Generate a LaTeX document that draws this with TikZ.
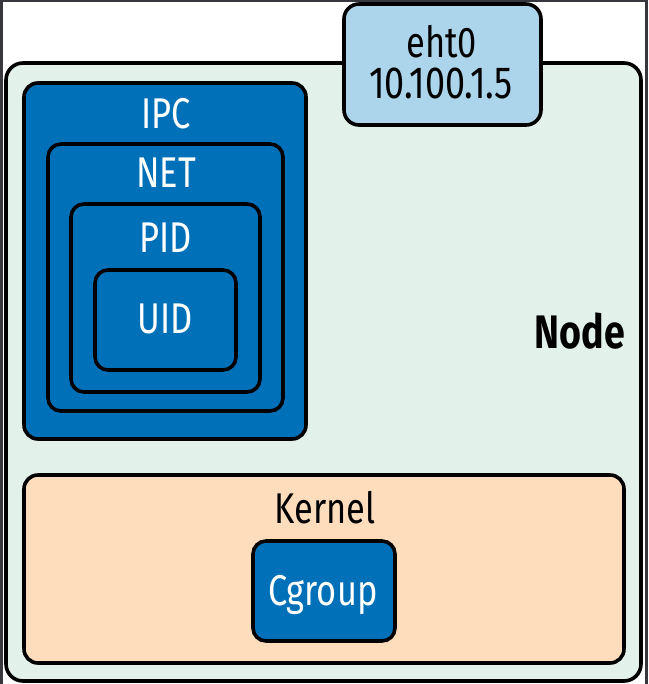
\documentclass[tikz,border=0pt]{standalone}
\usepackage{fontspec}
\setmainfont{Fira Sans}[FakeStretch=0.8]
\definecolor{frame}{HTML}{38373D}
\definecolor{nodefill}{HTML}{E2F1EA}
\definecolor{nsblue}{HTML}{0070B8}
\definecolor{ethfill}{HTML}{ACD4EA}
\definecolor{kernfill}{HTML}{FEDDBD}
\tikzset{
  box/.style={draw=black, line width=3.6pt, rounded corners=#1},
  box/.default=13pt,
  lbl/.style={anchor=base, inner sep=0pt, font=\fontsize{43}{50}\selectfont},
  wlbl/.style={lbl, text=white},
}
\begin{document}
\begin{tikzpicture}[x=1pt,y=-1pt]
\useasboundingbox (0,0) rectangle (648,684);
\fill[frame] (0,0) rectangle (648,684);
\fill[white] (3,2) rectangle (645,684);
% Node
\draw[box=17pt, fill=nodefill] (6,63) rectangle (641,681);
\node[lbl, font=\fontsize{47}{54}\selectfont\bfseries] (nodelbl) at (580,348) {Node};
% eth0
\draw[box=15pt, fill=ethfill] (344,4) rectangle (541,125);
\node[lbl] (eth) at (442,58) {eht0};
\node[lbl, font=\fontsize{45}{52}\selectfont] (ip) at (441,99) {10.100.1.5};
% namespaces
\draw[box=14pt, fill=nsblue] (24,83) rectangle (306,439);
\node[wlbl] (ipc) at (166,129) {IPC};
\draw[box=13pt, fill=nsblue] (48,144) rectangle (283,411);
\node[wlbl] (net) at (166,188) {NET};
\draw[box=13pt, fill=nsblue] (71,204) rectangle (260,392);
\node[wlbl] (pid) at (166,252) {PID};
\draw[box=13pt, fill=nsblue] (95,270) rectangle (236,370);
\node[wlbl] (uid) at (165,333) {UID};
% Kernel
\draw[box=14pt, fill=kernfill] (24,475) rectangle (624,663);
\node[lbl] (kernel) at (325,523) {Kernel};
\draw[box=13pt, fill=nsblue] (253,541) rectangle (395,641);
\node[wlbl] (cgroup) at (323,605) {Cgroup};
\end{tikzpicture}
\end{document}
